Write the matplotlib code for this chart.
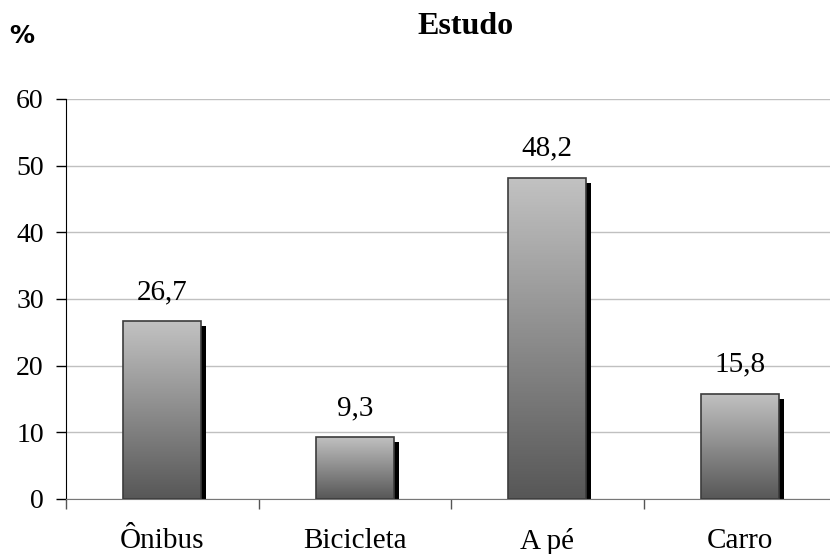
import numpy as np
import matplotlib.pyplot as plt
from matplotlib.patches import Rectangle
from matplotlib.colors import LinearSegmentedColormap

categorias = ['Ônibus', 'Bicicleta', 'A pé', 'Carro']
percentuais = [26.7, 9.3, 48.2, 15.8]
rotulos = ['26,7', '9,3', '48,2', '15,8']

plt.rcParams['font.family'] = ['Liberation Serif', 'DejaVu Serif']

fig = plt.figure(figsize=(8.3, 5.54), dpi=100)
ax = fig.add_axes([66 / 830, 1 - 499 / 554, 770 / 830, 400 / 554])

ax.set_xlim(0, len(categorias))
ax.set_ylim(0, 60)
ax.set_yticks(range(0, 61, 10))
ax.yaxis.grid(True, color='#c0c0c0', linewidth=1)
ax.set_axisbelow(True)

cinza = LinearSegmentedColormap.from_list('cinza', ['#575757', '#c2c2c2'])
grad = np.linspace(0, 1, 256).reshape(-1, 1)

largura = 0.405
# deslocamento da sombra em unidades de dados (~5 px)
dx = 5 / 192.5
dy = 5 / (400 / 60)
for i, v in enumerate(percentuais):
    x0 = i + 0.5 - largura / 2
    sombra = Rectangle((x0 + dx, 0), largura, v - dy, facecolor='black',
                       edgecolor='none', zorder=2)
    ax.add_patch(sombra)
    barra = Rectangle((x0, 0), largura, v, facecolor='none',
                      edgecolor='#3c3c3c', linewidth=1.2, zorder=4)
    ax.add_patch(barra)
    img = ax.imshow(grad, cmap=cinza, origin='lower', aspect='auto',
                    extent=(x0, x0 + largura, 0, v), zorder=3)
    img.set_clip_path(barra)
    ax.text(i + 0.5, v + 4.35, rotulos[i], ha='center', va='center',
            fontsize=21)

ax.set_xticks(range(len(categorias) + 1))
ax.set_xticklabels([])
ax.set_xticks([i + 0.5 for i in range(len(categorias))], minor=True)
ax.set_xticklabels(categorias, minor=True, fontsize=21)
ax.tick_params(axis='x', which='minor', length=0, pad=21)
ax.tick_params(axis='x', which='major', length=7, color='#555555', width=1)
ax.tick_params(axis='y', length=7, width=1, labelsize=20, pad=9)

for s in ['top', 'right']:
    ax.spines[s].set_visible(False)
ax.spines['left'].set_color('black')
ax.spines['bottom'].set_color('#777777')

fig.text(465 / 830, 1 - 27 / 554, 'Estudo', ha='center', va='center',
         fontsize=23, fontweight='bold')
fig.text(22 / 830, 1 - 36 / 554, '%', ha='center', va='center',
         fontsize=18, fontweight='bold', family='DejaVu Sans')

fig.savefig('out.png', dpi=100)
